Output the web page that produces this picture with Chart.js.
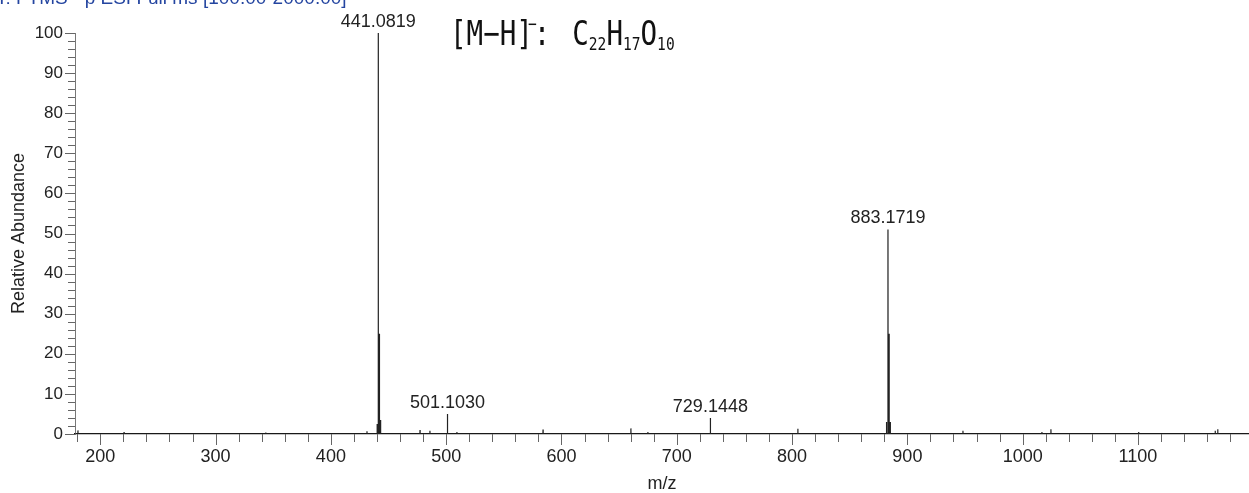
<!DOCTYPE html>
<html>
<head>
<meta charset="utf-8">
<script src="https://cdn.jsdelivr.net/npm/chart.js@4.4.1/dist/chart.umd.min.js"></script>
<style>
    html, body { margin: 0; padding: 0; background: #ffffff; }
    canvas { display: block; }
</style>
</head>
<body>
<canvas id="espectro" width="1249" height="493"></canvas>
<script>
// Picos rotulados (m/z e abundância relativa)
const picosRotuladosMz = [441.0819, 501.1030, 729.1448, 883.1719];
const picosRotuladosInt = [100, 5.0, 4.0, 51];

// Demais picos do espectro (isótopos e ruído)
const picosMz = [180.6, 220.6, 343.5, 431.3, 440.1, 442.08, 443.09, 477.3, 485.9, 509.3,
    584.0, 660.2, 674.9, 805.0, 881.9, 884.17, 885.2, 948.2, 1016.7, 1024.5, 1100.6, 1167.0, 1169.2];
const picosInt = [0.9, 0.5, 0.4, 0.7, 2.5, 25, 3.5, 1.0, 0.8, 0.5,
    1.1, 1.4, 0.5, 1.3, 3.0, 25, 3.0, 0.8, 0.5, 1.2, 0.5, 0.8, 1.2];

// Eixos
const xMin = 178.06, xMax = 1196.3;
const xTicks = [200, 300, 400, 500, 600, 700, 800, 900, 1000, 1100];
const yTicks = [0, 10, 20, 30, 40, 50, 60, 70, 80, 90, 100];

const cabecalho = 'T: FTMS - p ESI Full ms [100.00-2000.00]';

// Monta o espectro em barras verticais (sticks)
function montarEspectro() {
    const todos = [];
    picosRotuladosMz.forEach((m, i) => todos.push([m, picosRotuladosInt[i]]));
    picosMz.forEach((m, i) => todos.push([m, picosInt[i]]));
    todos.sort((a, b) => a[0] - b[0]);
    const pts = [{ x: xMin, y: 0 }];
    todos.forEach(([m, h]) => {
        pts.push({ x: m - 0.1, y: 0 }, { x: m, y: h }, { x: m + 0.1, y: 0 });
    });
    pts.push({ x: xMax, y: 0 });
    return pts;
}

// Marcas de escala (maiores e menores) e textos extras
const marcasPlugin = {
    id: 'marcas',
    afterDraw(chart) {
        const c = chart.ctx;
        const xs = chart.scales.x, ys = chart.scales.y;
        const area = chart.chartArea;
        c.save();
        c.strokeStyle = '#666';
        c.lineWidth = 1;
        c.beginPath();
        for (let v = 180; v <= xMax; v += 20) {
            const px = Math.round(xs.getPixelForValue(v)) + 0.5;
            const len = v % 100 === 0 ? 11 : 8;
            c.moveTo(px, area.bottom);
            c.lineTo(px, area.bottom + len);
        }
        for (let v = 0; v <= 100; v += 2) {
            const py = Math.round(ys.getPixelForValue(v)) + 0.5;
            const len = v % 10 === 0 ? 10 : 7;
            c.moveTo(area.left, py);
            c.lineTo(area.left - len, py);
        }
        c.stroke();

        // rótulos dos picos
        c.fillStyle = '#222';
        c.font = '18px "Liberation Sans", Arial, sans-serif';
        c.textAlign = 'center';
        c.textBaseline = 'alphabetic';
        picosRotuladosMz.forEach((m, i) => {
            const px = xs.getPixelForValue(m);
            const py = ys.getPixelForValue(picosRotuladosInt[i]);
            c.fillText(m.toFixed(4), px, py - 6);
        });

        // cabeçalho do scan
        c.fillStyle = '#2445a0';
        c.font = '19px "Liberation Sans", Arial, sans-serif';
        c.textAlign = 'left';
        c.fillText(cabecalho, -4, 4);

        // fórmula do íon
        const grande = '34px "DejaVu Sans Mono", monospace';
        const pequena = '18px "DejaVu Sans Mono", monospace';
        const partes = [
            ['[M−H]', grande, 0, 0],
            ['−', pequena, -15, -5],
            [':', grande, 0, -3],
            ['C', grande, 0, 22],
            ['22', pequena, 5, 0],
            ['H', grande, 0, 0],
            ['17', pequena, 5, 0],
            ['O', grande, 0, 0],
            ['10', pequena, 5, 0]
        ];
        const sx = 0.81;
        c.translate(450, 45);
        c.scale(sx, 1);
        c.fillStyle = '#111';
        let cx = 0;
        partes.forEach(([t, f, dy, dx]) => {
            cx += dx / sx;
            c.font = f;
            c.fillText(t, cx, dy);
            cx += c.measureText(t).width;
        });
        c.restore();
    }
};

const fonte = '"Liberation Sans", Arial, sans-serif';
const ctx = document.getElementById('espectro').getContext('2d');
const grafico = new Chart(ctx, {
    type: 'line',
    data: {
        datasets: [{
            data: montarEspectro(),
            borderColor: '#222',
            borderWidth: 1.2,
            pointRadius: 0,
            fill: false,
            tension: 0
        }]
    },
    options: {
        responsive: false,
        animation: false,
        layout: { padding: { top: 33, right: 0, left: 0, bottom: 0 } },
        plugins: {
            legend: { display: false },
            tooltip: { enabled: false }
        },
        scales: {
            x: {
                type: 'linear',
                min: xMin,
                max: xMax,
                afterBuildTicks: s => { s.ticks = xTicks.map(v => ({ value: v })); },
                afterFit: s => { s.height = 59; },
                grid: { display: false, drawTicks: false },
                border: { display: true, color: '#111', width: 1.3 },
                ticks: {
                    color: '#222',
                    padding: 12,
                    maxRotation: 0,
                    callback: v => String(v),
                    font: { family: fonte, size: 18 }
                },
                title: {
                    display: true,
                    text: 'm/z',
                    color: '#222',
                    padding: { top: 0, bottom: -2 },
                    font: { family: fonte, size: 18 }
                }
            },
            y: {
                min: 0,
                max: 100,
                afterBuildTicks: s => { s.ticks = yTicks.map(v => ({ value: v })); },
                afterFit: s => { s.width = 75; },
                grid: { display: false, drawTicks: false },
                border: { display: true, color: '#777', width: 1 },
                ticks: {
                    color: '#222',
                    padding: 12,
                    callback: v => String(v),
                    font: { family: fonte, size: 17 }
                },
                title: {
                    display: true,
                    text: 'Relative Abundance',
                    color: '#222',
                    padding: { top: 8, bottom: 0 },
                    font: { family: fonte, size: 18 }
                }
            }
        }
    },
    plugins: [marcasPlugin]
});
</script>
</body>
</html>
